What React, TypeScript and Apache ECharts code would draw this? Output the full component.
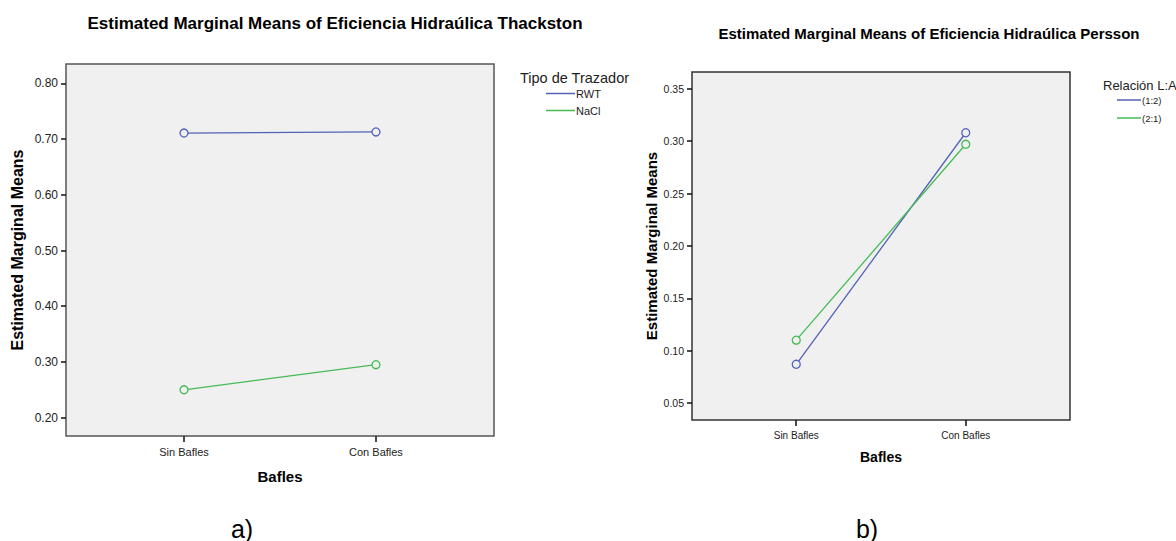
import React, { useEffect, useRef } from "react";
import * as echarts from "echarts";

const categories = ["Sin Bafles", "Con Bafles"];
const thackstonRWT = [0.711, 0.713];
const thackstonNaCl = [0.25, 0.295];
const perssonR12 = [0.087, 0.308];
const perssonR21 = [0.11, 0.297];
const yTicksA = [0.2, 0.3, 0.4, 0.5, 0.6, 0.7, 0.8];
const yTicksB = [0.05, 0.1, 0.15, 0.2, 0.25, 0.3, 0.35];
const legendA = ["RWT", "NaCl"];
const legendB = ["(1:2)", "(2:1)"];

const BLUE = "#5362b7";
const GREEN = "#44bb55";
const FONT = "Liberation Sans, Arial, sans-serif";

const toPts = (vals: number[]) => categories.map((_, i) => [i, vals[i]]);

const xAxisCfg = (gridIndex: number, nameGap: number, nameSize: number, labelSize: number) => ({
  type: "value",
  gridIndex,
  min: -0.615,
  max: 1.615,
  name: "Bafles",
  nameLocation: "middle",
  nameGap,
  nameTextStyle: { fontFamily: FONT, fontWeight: "bold", fontSize: nameSize, color: "#000" },
  axisLine: { show: false, onZero: false },
  splitLine: { show: false },
  axisTick: { show: true, customValues: [0, 1], length: 6, lineStyle: { color: "#111", width: 1.5 } },
  axisLabel: {
    customValues: [0, 1],
    formatter: (v: number) => categories[Math.round(v)] ?? "",
    fontFamily: FONT,
    fontSize: labelSize,
    color: "#222",
    margin: 10,
  },
});

const yAxisCfg = (
  gridIndex: number,
  min: number,
  max: number,
  ticks: number[],
  nameGap: number,
  nameSize: number,
  labelSize: number
) => ({
  type: "value",
  gridIndex,
  min,
  max,
  name: "Estimated Marginal Means",
  nameLocation: "middle",
  nameGap,
  nameTextStyle: { fontFamily: FONT, fontWeight: "bold", fontSize: nameSize, color: "#000" },
  axisLine: { show: false, onZero: false },
  splitLine: { show: false },
  axisTick: { show: true, customValues: ticks, length: 5, lineStyle: { color: "#111", width: 1.5 } },
  axisLabel: {
    customValues: ticks,
    formatter: (v: number) => v.toFixed(2),
    fontFamily: FONT,
    fontSize: labelSize,
    color: "#222",
    margin: 8,
  },
});

const lineSeries = (name: string, vals: number[], color: string, idx: number) => ({
  type: "line",
  name,
  xAxisIndex: idx,
  yAxisIndex: idx,
  data: toPts(vals),
  symbol: "circle",
  symbolSize: 8,
  lineStyle: { color, width: 1.3 },
  itemStyle: { color: "#f0f0f0", borderColor: color, borderWidth: 1.3 },
});

export default function App() {
  const ref = useRef<HTMLDivElement>(null);
  useEffect(() => {
    if (!ref.current) return;
    const chart = echarts.init(ref.current, undefined, { renderer: "svg" });
    chart.setOption({
      animation: false,
      backgroundColor: "#fff",
      title: [
        {
          text: "Estimated Marginal Means of Eficiencia Hidraúlica Thackston",
          left: 330,
          top: 10,
          textAlign: "center",
          textStyle: { fontFamily: FONT, fontWeight: "bold", fontSize: 17, color: "#000" },
        },
        {
          text: "Estimated Marginal Means of Eficiencia Hidraúlica Persson",
          left: 924,
          top: 21,
          textAlign: "center",
          textStyle: { fontFamily: FONT, fontWeight: "bold", fontSize: 15, color: "#000" },
        },
        {
          text: "a)",
          left: 237,
          top: 511,
          textAlign: "center",
          textStyle: { fontFamily: FONT, fontWeight: "normal", fontSize: 25, color: "#000" },
        },
        {
          text: "b)",
          left: 862,
          top: 511,
          textAlign: "center",
          textStyle: { fontFamily: FONT, fontWeight: "normal", fontSize: 25, color: "#000" },
        },
      ],
      grid: [
        { left: 66, top: 64, width: 428, height: 372, show: true, backgroundColor: "#f0f0f0", borderColor: "#555", borderWidth: 1.5 },
        { left: 692, top: 72, width: 378, height: 348, show: true, backgroundColor: "#f0f0f0", borderColor: "#333", borderWidth: 1.5 },
      ],
      xAxis: [xAxisCfg(0, 33, 15, 11), xAxisCfg(1, 30, 14, 10)],
      yAxis: [
        yAxisCfg(0, 0.167, 0.835, yTicksA, 41, 16, 12),
        yAxisCfg(1, 0.0338, 0.366, yTicksB, 33, 15, 10.5),
      ],
      legend: [
        {
          orient: "vertical",
          left: 541,
          top: 83,
          icon: "rect",
          itemWidth: 29,
          itemHeight: 1.5,
          itemGap: 6,
          textStyle: { fontFamily: FONT, fontSize: 11, color: "#222", padding: [0, 0, 0, -4] },
          data: [
            { name: legendA[0], itemStyle: { color: BLUE, borderWidth: 0 } },
            { name: legendA[1], itemStyle: { color: GREEN, borderWidth: 0 } },
          ],
          selectedMode: false,
        },
        {
          orient: "vertical",
          left: 1112,
          top: 90,
          icon: "rect",
          itemWidth: 24,
          itemHeight: 1.5,
          itemGap: 8,
          textStyle: { fontFamily: FONT, fontSize: 9.5, color: "#222", padding: [0, 0, 0, -4] },
          data: [
            { name: legendB[0], itemStyle: { color: BLUE, borderWidth: 0 } },
            { name: legendB[1], itemStyle: { color: GREEN, borderWidth: 0 } },
          ],
          selectedMode: false,
        },
      ],
      graphic: [
        {
          type: "text",
          left: 520,
          top: 70,
          style: { text: "Tipo de Trazador", fontFamily: FONT, fontSize: 14.5, fill: "#222" },
        },
        {
          type: "text",
          left: 1103,
          top: 79,
          style: { text: "Relación L:A", fontFamily: FONT, fontSize: 13, fill: "#222" },
        },
      ],
      series: [
        lineSeries(legendA[0], thackstonRWT, BLUE, 0),
        lineSeries(legendA[1], thackstonNaCl, GREEN, 0),
        lineSeries(legendB[0], perssonR12, BLUE, 1),
        lineSeries(legendB[1], perssonR21, GREEN, 1),
      ],
    });
    return () => chart.dispose();
  }, []);
  return (
    <div
      ref={ref}
      style={{ position: "absolute", left: 0, top: 0, width: 1176, height: 541 }}
    />
  );
}
